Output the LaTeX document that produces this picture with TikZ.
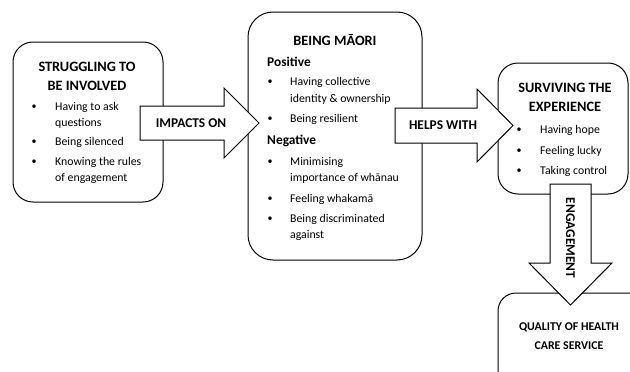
\documentclass[tikz,border=0pt]{standalone}
\usepackage{fontspec}
\setmainfont{Carlito}
\usetikzlibrary{positioning}

\begin{document}
\begin{tikzpicture}[x=1pt, y=-1pt,
  box/.style={draw, line width=1pt, rounded corners=20pt, fill=white},
  blockarrow/.style={draw, line width=1pt, fill=white, line join=miter},
  head/.style={font=\fontsize{14.3}{16}\selectfont\bfseries, inner sep=0pt},
  label/.style={font=\fontsize{13.4}{15}\selectfont\bfseries, inner sep=0pt},
  sub/.style={anchor=west, font=\fontsize{13.4}{15}\selectfont\bfseries, inner sep=0pt},
  item/.style={anchor=west, font=\fontsize{11.8}{14}\selectfont, inner sep=0pt},
  dot/.style={font=\fontsize{10}{12}\selectfont, inner sep=0pt}]
\useasboundingbox (0,0) rectangle (630,372);

% Boxes
\draw[box] (13,42) rectangle (163,202);
\draw[box, rounded corners=25pt] (248,12) rectangle (422,260);
\draw[box] (498,63) rectangle (628,194);
\draw[box, rounded corners=18pt] (498,293) rectangle (665,420);

% Struggling to be involved
\node[head] (struggle) at (87,67) {STRUGGLING TO};
\node[head] (involved) at (87,86) {BE INVOLVED};
\foreach \y in {107,142,162}
  \node[dot] (s-dot-\y) at (34,\y) {\textbullet};
\foreach \y/\t in {107/Having to ask, 123/questions, 142/Being silenced,
                   162/Knowing the rules, 178/of engagement}
  \node[item] (s-\y) at (55,\y) {\t};

% Being Maori
\node[head] (maori) at (335,40) {BEING MĀORI};
\node[sub] (positive) at (267,62) {Positive};
\node[sub] (negative) at (267,141) {Negative};
\foreach \y in {82,119,162,199,219}
  \node[dot] (m-dot-\y) at (270,\y) {\textbullet};
\foreach \y/\t in {82/Having collective, 99/identity \& ownership, 119/Being resilient,
                   162/Minimising, 178/importance of whānau, 199/Feeling whakamā,
                   219/Being discriminated, 235/against}
  \node[item] (m-\y) at (290,\y) {\t};

% Surviving the experience
\node[head] (surviving) at (565,88) {SURVIVING THE};
\node[head] (experience) at (565,107) {EXPERIENCE};
\foreach \y/\t in {130/Having hope, 151/Feeling lucky, 171/Taking control} {
  \node[dot] (e-dot-\y) at (519,\y) {\textbullet};
  \node[item] (e-\y) at (540,\y) {\t};
}

% Quality of health care service
\node[head, font=\fontsize{11.9}{14}\selectfont\bfseries] (quality) at (569,327) {QUALITY OF HEALTH};
\node[head, font=\fontsize{11.9}{14}\selectfont\bfseries] (care) at (569,346) {CARE SERVICE};

% Block arrows
\draw[blockarrow] (140,106) -- (224,106) -- (224,88) -- (259,123)
  -- (224,158) -- (224,140) -- (140,140) -- cycle;
\node[label] (impacts) at (191,123) {IMPACTS ON};

\draw[blockarrow] (395,108) -- (477,108) -- (477,89) -- (513,125.5)
  -- (477,162) -- (477,143) -- (395,143) -- cycle;
\node[label] (helps) at (443,125.5) {HELPS WITH};

\draw[blockarrow] (550,184) -- (591,184) -- (591,263) -- (612,263) -- (570.5,305)
  -- (529,263) -- (550,263) -- cycle;
\node[label, rotate=-90] (engage) at (570.5,238) {ENGAGEMENT};
\end{tikzpicture}
\end{document}
